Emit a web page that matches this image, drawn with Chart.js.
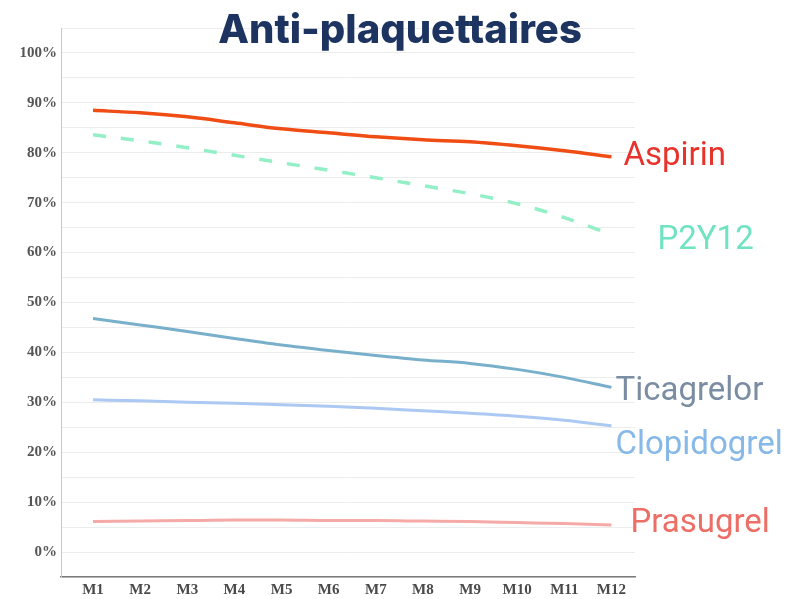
<!DOCTYPE html>
<html>
<head>
<meta charset="utf-8">
<script src="https://cdn.jsdelivr.net/npm/chart.js@4/dist/chart.umd.min.js"></script>
<style>
  html, body { margin: 0; padding: 0; background: #fff; }
  #wrap { width: 794px; height: 599px; position: relative; }
</style>
</head>
<body>
<div id="wrap"><canvas id="chart"></canvas></div>
<script>
// --- DONNÉES ---
const months = ['M1', 'M2', 'M3', 'M4', 'M5', 'M6', 'M7', 'M8', 'M9', 'M10', 'M11', 'M12'];
const aspirin     = [88.5, 88.0, 87.2, 86.0, 84.8, 84.0, 83.2, 82.6, 82.2, 81.4, 80.4, 79.2];
const p2y12       = [83.6, 82.4, 81.0, 79.5, 78.0, 76.5, 75.0, 73.4, 71.8, 69.8, 67.0, 63.6];
const ticagrelor  = [46.8, 45.5, 44.2, 42.8, 41.5, 40.4, 39.4, 38.5, 37.8, 36.6, 35.0, 33.0];
const clopidogrel = [30.5, 30.3, 30.0, 29.8, 29.5, 29.2, 28.8, 28.3, 27.8, 27.2, 26.4, 25.3];
const prasugrel   = [6.1, 6.2, 6.3, 6.4, 6.4, 6.3, 6.3, 6.2, 6.1, 5.9, 5.7, 5.4];

const toPoints = arr => arr.map((v, i) => ({ x: i + 1, y: v }));

// étiquettes à droite des courbes (décalage par rapport au dernier point)
const endLabels = [
    { ds: 0, text: 'Aspirin',     color: '#e8332c', dx: 12, dy: 0 },
    { ds: 1, text: 'P2Y12',       color: '#6fe3c2', dx: 46, dy: 6 },
    { ds: 2, text: 'Ticagrelor',  color: '#7b8da3', dx: 4,  dy: 4 },
    { ds: 3, text: 'Clopidogrel', color: '#86b8e8', dx: 4,  dy: 20 },
    { ds: 4, text: 'Prasugrel',   color: '#ec6e66', dx: 19, dy: -1 }
];

const labelsPlugin = {
    id: 'endLabels',
    afterDatasetsDraw(chart) {
        const ctx = chart.ctx;
        ctx.save();
        ctx.font = '400 33px Roboto';
        ctx.textBaseline = 'middle';
        ctx.textAlign = 'left';
        endLabels.forEach(l => {
            const meta = chart.getDatasetMeta(l.ds);
            const last = meta.data[meta.data.length - 1];
            ctx.fillStyle = l.color;
            ctx.fillText(l.text, last.x + l.dx, last.y + l.dy);
        });
        // titre
        ctx.font = '800 40px Inter';
        ctx.textAlign = 'center';
        ctx.fillStyle = '#1d3461';
        ctx.fillText('Anti-plaquettaires', 400, 31);
        ctx.restore();
    }
};

const serif = { family: '"Liberation Serif", "DejaVu Serif", serif', size: 15, weight: 'bold' };

new Chart(document.getElementById('chart'), {
    type: 'line',
    data: {
        datasets: [
            { data: toPoints(aspirin), borderColor: '#f04d14', borderWidth: 3.5 },
            { data: toPoints(p2y12), borderColor: '#92efc6', borderWidth: 3.5, borderDash: [13, 15] },
            { data: toPoints(ticagrelor), borderColor: '#78b0cc', borderWidth: 3 },
            { data: toPoints(clopidogrel), borderColor: '#abc9f2', borderWidth: 3 },
            { data: toPoints(prasugrel), borderColor: '#f5aaa8', borderWidth: 3 }
        ]
    },
    options: {
        responsive: true,
        maintainAspectRatio: false,
        animation: false,
        devicePixelRatio: 1,
        layout: { padding: { top: 28, right: 159, left: 0, bottom: 0 } },
        elements: {
            point: { radius: 0 },
            line: { tension: 0.4, cubicInterpolationMode: 'monotone', fill: false, borderCapStyle: 'butt' }
        },
        plugins: { legend: { display: false }, tooltip: { enabled: false } },
        scales: {
            x: {
                type: 'linear',
                min: 0.32,
                max: 12.5,
                afterFit: s => { s.height = 22; },
                grid: { display: false, drawTicks: false },
                border: { color: '#7a7a7a', width: 1.5 },
                ticks: {
                    stepSize: 1,
                    includeBounds: false,
                    autoSkip: false,
                    maxRotation: 0,
                    padding: 4,
                    color: '#4a4a4a',
                    font: serif,
                    callback: v => Number.isInteger(v) ? months[v - 1] : ''
                }
            },
            y: {
                min: -5,
                max: 105,
                afterFit: s => { s.width = 61; },
                grid: { color: '#ececec', drawTicks: false },
                border: { color: '#c8c8c8', width: 1 },
                ticks: {
                    stepSize: 5,
                    autoSkip: false,
                    padding: 4,
                    color: '#555',
                    font: serif,
                    callback: v => (v >= 0 && v % 10 === 0) ? v + '%' : ''
                }
            }
        }
    },
    plugins: [labelsPlugin]
});
</script>
</body>
</html>
